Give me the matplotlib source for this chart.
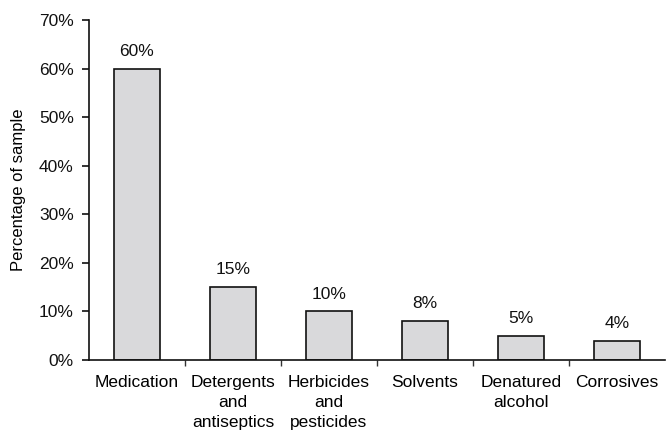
import matplotlib
matplotlib.use("Agg")
import matplotlib.pyplot as plt
from matplotlib.ticker import FixedLocator, PercentFormatter

categories = ["Medication", "Detergents\nand\nantiseptics", "Herbicides\nand\npesticides",
              "Solvents", "Denatured\nalcohol", "Corrosives"]
values = [60, 15, 10, 8, 5, 4]
y_ticks = [0, 10, 20, 30, 40, 50, 60, 70]

plt.rcParams['font.family'] = ['Liberation Sans', 'DejaVu Sans']

fig = plt.figure(figsize=(6.67, 4.32), dpi=100)
ax = fig.add_axes([0.1334, 0.1667, 0.8636, 0.787])

x = list(range(len(categories)))
bars = ax.bar(x, values, width=0.47, color="#d9d9db", edgecolor="#111111", linewidth=1.2)

for xi, v in zip(x, values):
    ax.annotate(f"{v}%", (xi, v), xytext=(0, 7), textcoords="offset points",
                ha="center", va="bottom", fontsize=12.5, color="#111111")

ax.set_xlim(-0.5, len(categories) - 0.5)
ax.set_ylim(0, 70)
ax.set_yticks(y_ticks)
ax.yaxis.set_major_formatter(PercentFormatter(decimals=0))

# Category labels centred under bars, tick marks at category boundaries
ax.set_xticks(x)
ax.set_xticklabels(categories, fontsize=12.5, linespacing=1.42)
ax.tick_params(axis="x", which="major", length=0, pad=11)
ax.xaxis.set_minor_locator(FixedLocator([i + 0.5 for i in range(len(categories) - 1)]))
ax.tick_params(axis="x", which="minor", length=4, width=1, color="#333333")
ax.tick_params(axis="y", length=5, width=1.2, pad=6, labelsize=12.5, colors="#111111")

for s in ("top", "right"):
    ax.spines[s].set_visible(False)
for s in ("left", "bottom"):
    ax.spines[s].set_linewidth(1.2)
    ax.spines[s].set_color("#111111")

ax.set_ylabel("Percentage of sample", fontsize=12, labelpad=9)

fig.savefig("out.png", dpi=100)
